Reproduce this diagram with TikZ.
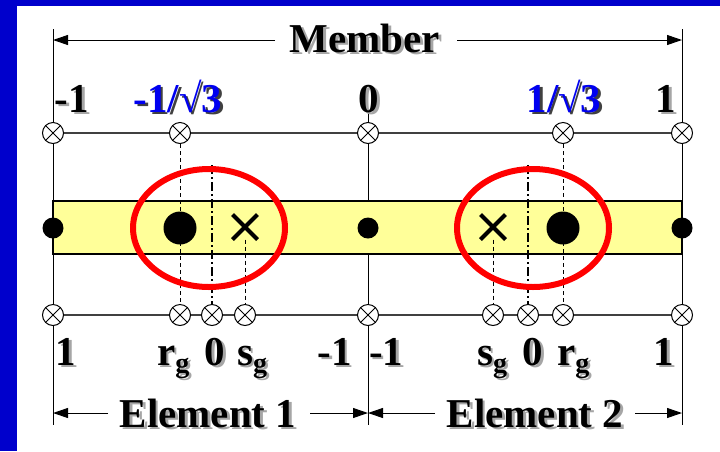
\documentclass[tikz,border=0pt]{standalone}
\usepackage{fontspec}
\setmainfont{Liberation Serif}
\usetikzlibrary{arrows.meta,shapes.misc,shapes.geometric}
\definecolor{bord}{RGB}{0,0,204}
\definecolor{tblue}{RGB}{0,0,240}
\definecolor{bary}{RGB}{255,255,153}
\definecolor{axisg}{RGB}{64,64,64}
\newcommand\shadowtext[5][black]{%
  \node[txt,anchor=#3,text=black!35] at ([shift={(2.5,2.5)}]#4) {#5};
  \node[txt,anchor=#3,text=#1] (#2) at (#4) {#5};}
\newcommand\blueshadowtext[4]{%
  \node[txt,anchor=#2,text=black!75] at ([shift={(2.5,2.5)}]#3) {#4};
  \node[txt,anchor=#2,text=tblue] (#1) at (#3) {#4};}
\newcommand\sub[1]{\raisebox{-7pt}{\fontsize{28}{28}\selectfont #1}}
\tikzset{
  txt/.style={font=\fontsize{41}{41}\selectfont\bfseries, inner sep=0pt},
  ox/.style={circle, draw=black, line width=1pt, fill=white, minimum size=21pt, inner sep=0pt,
    path picture={\draw[line width=0.9pt] (path picture bounding box.north west) -- (path picture bounding box.south east)
      (path picture bounding box.north east) -- (path picture bounding box.south west);}},
  smalldot/.style={circle, fill=black, minimum size=21pt, inner sep=0pt},
  bigdot/.style={circle, fill=black, minimum size=33pt, inner sep=0pt},
  xmark/.style={cross out, draw=black, line width=4pt, minimum size=21pt, inner sep=0pt},
  ring/.style={ellipse, draw=red, line width=6pt, minimum width=152pt, minimum height=118pt, inner sep=0pt},
  dim/.style={line width=1pt, -{Triangle[length=15pt,width=10pt]}},
  vline/.style={line width=1pt, black},
  axis/.style={line width=1.6pt, axisg},
  gdash/.style={line width=1pt, dash pattern=on 4pt off 3pt},
  gdashdot/.style={line width=1.3pt, dash pattern=on 9pt off 3pt on 2pt off 3pt},
}
\begin{document}
\begin{tikzpicture}[x=1pt,y=-1pt]
\useasboundingbox (0,0) rectangle (720,451);
\fill[white] (0,0) rectangle (720,451);
\fill[bord] (0,0) rectangle (720,6);
\fill[bord] (0,0) rectangle (17,451);
% coordinates
\coordinate (VLt) at (53,29);   \coordinate (VLb) at (53,425);
\coordinate (VMt) at (368,113); \coordinate (VMb) at (368,425);
\coordinate (VRt) at (682,29);  \coordinate (VRb) at (682,425);
\coordinate (TA1) at (53,133);  \coordinate (TA2) at (682,133);
\coordinate (BA1) at (53,315);  \coordinate (BA2) at (682,315);
\coordinate (MA) at (53,40);  \coordinate (MLe) at (275,40);
\coordinate (MRs) at (457,40); \coordinate (MB) at (682,40);
\coordinate (E1a) at (53,413); \coordinate (E1l) at (108,413);
\coordinate (E1r) at (310,413); \coordinate (E1b) at (368,413);
\coordinate (E2l) at (435,413); \coordinate (E2r) at (635,413);
\coordinate (E2b) at (682,413);
\coordinate (C1) at (212,165); \coordinate (C2) at (528,165);
% vertical lines
\draw[vline] (VLt) -- (VLb);
\draw[vline] (VMt) -- (VMb);
\draw[vline] (VRt) -- (VRb);
% axes
\draw[axis] (TA1) -- (TA2);
\draw[axis] (BA1) -- (BA2);
% bar
\draw[line width=1.5pt, fill=bary] (53,201) rectangle (682,254);
% top circles
\node[ox] (t1) at (53,133) {};
\node[ox] (t2) at (180,133) {};
\node[ox] (t3) at (368,133) {};
\node[ox] (t4) at (563,133) {};
\node[ox] (t5) at (682,133) {};
% bottom circles
\node[ox] (b1) at (53,315) {};
\node[ox] (b2) at (180,315) {};
\node[ox] (b3) at (212,315) {};
\node[ox] (b4) at (245,315) {};
\node[ox] (b5) at (368,315) {};
\node[ox] (b6) at (493,315) {};
\node[ox] (b7) at (528,315) {};
\node[ox] (b8) at (563,315) {};
\node[ox] (b9) at (682,315) {};
% dots and crosses
\node[smalldot] (n1) at (53,228) {};
\node[smalldot] (n2) at (368,228) {};
\node[smalldot] (n3) at (682,228) {};
\node[bigdot] (g1) at (180,228) {};
\node[bigdot] (g2) at (563,228) {};
\node[xmark] (x1) at (245,227) {};
\node[xmark] (x2) at (493,227) {};
% guide lines
\draw[gdash] (t2) -- (b2);
\draw[gdash] (t4) -- (b8);
\draw[gdash] (x1) -- (b4);
\draw[gdash] (x2) -- (b6);
\draw[gdashdot] (C1) -- (b3);
\draw[gdashdot] (C2) -- (b7);
% rings
\node[ring] (e1) at (209,228) {};
\node[ring] (e2) at (533,228) {};
% labels
\shadowtext{member}{base}{365,52}{Member}
\shadowtext{lm1}{base}{72,112}{-1}
\blueshadowtext{lmr}{base}{178,112}{-1/√3}
\shadowtext{lz}{base}{369,112}{0}
\blueshadowtext{lpr}{base}{564,112}{1/√3}
\shadowtext{lp1}{base}{666,112}{1}
\shadowtext{a1}{base}{66,365}{1}
\shadowtext{a2}{base west}{157,365}{r\sub{g}}
\shadowtext{a3}{base}{215,365}{0}
\shadowtext{a4}{base west}{237,365}{s\sub{g}}
\shadowtext{a5}{base east}{352,365}{-1}
\shadowtext{a6}{base west}{369,365}{-1}
\shadowtext{a7}{base west}{477,365}{s\sub{g}}
\shadowtext{a8}{base}{533,365}{0}
\shadowtext{a9}{base west}{557,365}{r\sub{g}}
\shadowtext{a10}{base}{664,365}{1}
\shadowtext{el1}{base}{208,427}{Element 1}
\shadowtext{el2}{base}{535,427}{Element 2}
% dimension arrows
\draw[dim] (MLe) -- (MA);
\draw[dim] (MRs) -- (MB);
\draw[dim] (E1l) -- (E1a);
\draw[dim] (E1r) -- (E1b);
\draw[dim] (E2l) -- (E1b);
\draw[dim] (E2r) -- (E2b);
\end{tikzpicture}
\end{document}
